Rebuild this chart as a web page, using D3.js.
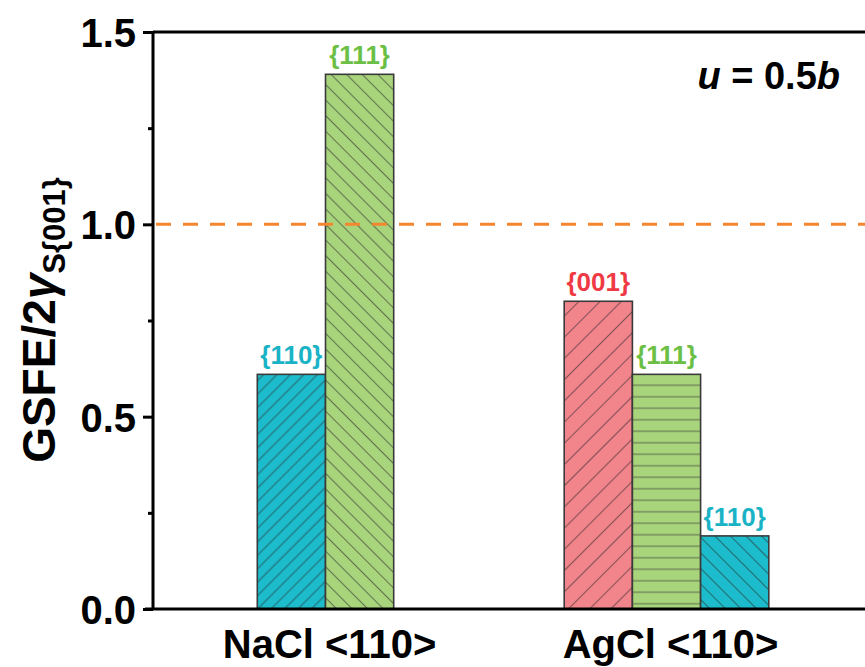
<!DOCTYPE html>
<html><head><meta charset="utf-8">
<script src="https://cdn.jsdelivr.net/npm/d3@7"></script>
<style>html,body{margin:0;padding:0;background:#fff;}svg{display:block;font-family:"Liberation Sans",Arial,sans-serif;}</style>
</head><body>
<svg id="chart" width="865" height="667"></svg>
<script>
const categories = ["NaCl <110>", "AgCl <110>"];
const barGroups = ["NaCl <110>", "NaCl <110>", "AgCl <110>", "AgCl <110>", "AgCl <110>"];
const barPlanes = ["{110}", "{111}", "{001}", "{111}", "{110}"];
const barValues = [0.61, 1.39, 0.80, 0.61, 0.19];
const barHatch = ["fwd", "back", "fwdWide", "horiz", "back"];
const yTicks = [0, 0.5, 1.0, 1.5];
const yMinorTicks = [0.25, 0.75, 1.25];
const refValue = 1.0;

const fillColor = {"{110}": "#1cbccc", "{111}": "#a8d47c", "{001}": "#f2848b"};
const labelColor = {"{110}": "#1ab3c6", "{111}": "#6cbf45", "{001}": "#ef3a45"};

const svg = d3.select("#chart");
const mLeft = 153, mTop = 32, mBottom = 609;

const y = d3.scaleLinear().domain([0, 1.5]).range([mBottom, mTop]);
const x = d3.scaleBand().domain(categories).range([155, 837]).padding(0);
const barW = x.bandwidth() * 0.2;

const defs = svg.append("defs");
const hatchSpec = {fwd: [9.5, 45], back: [11, -45], fwdWide: [15, 45], horiz: [11.5, 0]};
barValues.forEach((v, i) => {
  const [s, rot] = hatchSpec[barHatch[i]];
  const p = defs.append("pattern").attr("id", "h" + i)
    .attr("patternUnits", "userSpaceOnUse").attr("width", s).attr("height", s)
    .attr("patternTransform", `rotate(${rot})`);
  p.append("rect").attr("width", s).attr("height", s).attr("fill", fillColor[barPlanes[i]]);
  if (rot === 0) p.append("line").attr("x1", 0).attr("x2", s).attr("y1", s/2).attr("y2", s/2)
      .attr("stroke", "rgba(40,40,40,0.55)").attr("stroke-width", 1.1);
  else p.append("line").attr("x1", s/2).attr("x2", s/2).attr("y1", 0).attr("y2", s)
      .attr("stroke", "rgba(40,40,40,0.55)").attr("stroke-width", 1.1);
});

const bars = barValues.map((v, i) => {
  const g = barGroups[i];
  const idx = barGroups.slice(0, i).filter(d => d === g).length;
  const n = barGroups.filter(d => d === g).length;
  const cx = x(g) + x.bandwidth() / 2;
  return {v, i, plane: barPlanes[i], x0: cx - n * barW / 2 + idx * barW};
});

svg.selectAll("rect.bar").data(bars).join("rect").attr("class", "bar")
  .attr("x", d => d.x0).attr("y", d => y(d.v))
  .attr("width", barW).attr("height", d => y(0) - y(d.v))
  .attr("fill", d => `url(#h${d.i})`).attr("stroke", "#3a3a3a").attr("stroke-width", 1.6);

svg.selectAll("text.blab").data(bars).join("text").attr("class", "blab")
  .attr("x", d => d.x0 + barW / 2).attr("y", d => y(d.v) - 10)
  .attr("text-anchor", "middle").attr("font-size", 26).attr("font-weight", "bold")
  .attr("fill", d => labelColor[d.plane]).text(d => d.plane);

svg.append("line").attr("x1", mLeft + 3).attr("x2", 865).attr("y1", y(refValue)).attr("y2", y(refValue))
  .attr("stroke", "#f5862f").attr("stroke-width", 3).attr("stroke-dasharray", "15,12");

svg.append("line").attr("x1", mLeft).attr("x2", 865).attr("y1", mTop).attr("y2", mTop).attr("stroke", "#000").attr("stroke-width", 3);

const yAxis = d3.axisLeft(y).tickValues(yTicks).tickFormat(d3.format(".1f")).tickSize(10).tickPadding(7);
const ya = svg.append("g").attr("transform", `translate(${mLeft},0)`).call(yAxis);
ya.select(".domain").attr("stroke-width", 3).attr("d", `M0,${mTop}V${mBottom}`);
ya.selectAll(".tick line").attr("stroke-width", 3);
ya.selectAll(".tick text").attr("font-size", 40).attr("font-weight", "bold").attr("font-family", "Liberation Sans, Arial, sans-serif").attr("dy", "0.36em");
const yMinor = d3.axisLeft(y).tickValues(yMinorTicks).tickSize(5).tickFormat("");
const ym = svg.append("g").attr("transform", `translate(${mLeft},0)`).call(yMinor);
ym.select(".domain").remove();
ym.selectAll(".tick line").attr("stroke-width", 3);

const xAxis = d3.axisBottom(x).tickSize(0).tickPadding(21);
const xa = svg.append("g").attr("transform", `translate(0,${mBottom})`).call(xAxis);
xa.select(".domain").attr("stroke-width", 3).attr("d", `M${mLeft - 8},0H865`);
xa.selectAll(".tick text").attr("font-size", 40).attr("font-weight", "bold").attr("font-family", "Liberation Sans, Arial, sans-serif").attr("dx", "0.1em");

const yl = svg.append("text").attr("transform", "translate(55,320) rotate(-90)")
  .attr("text-anchor", "middle").attr("font-size", 46).attr("font-weight", "bold");
yl.append("tspan").text("GSFE/2");
yl.append("tspan").attr("font-style", "italic").text("γ");
yl.append("tspan").attr("font-size", 31).attr("dy", 10).text("S{001}");

const an = svg.append("text").attr("x", 840).attr("y", 89).attr("text-anchor", "end")
  .attr("font-size", 38).attr("font-weight", "bold");
an.append("tspan").attr("font-style", "italic").text("u");
an.append("tspan").text(" = 0.5");
an.append("tspan").attr("font-style", "italic").text("b");
</script>
</body></html>
